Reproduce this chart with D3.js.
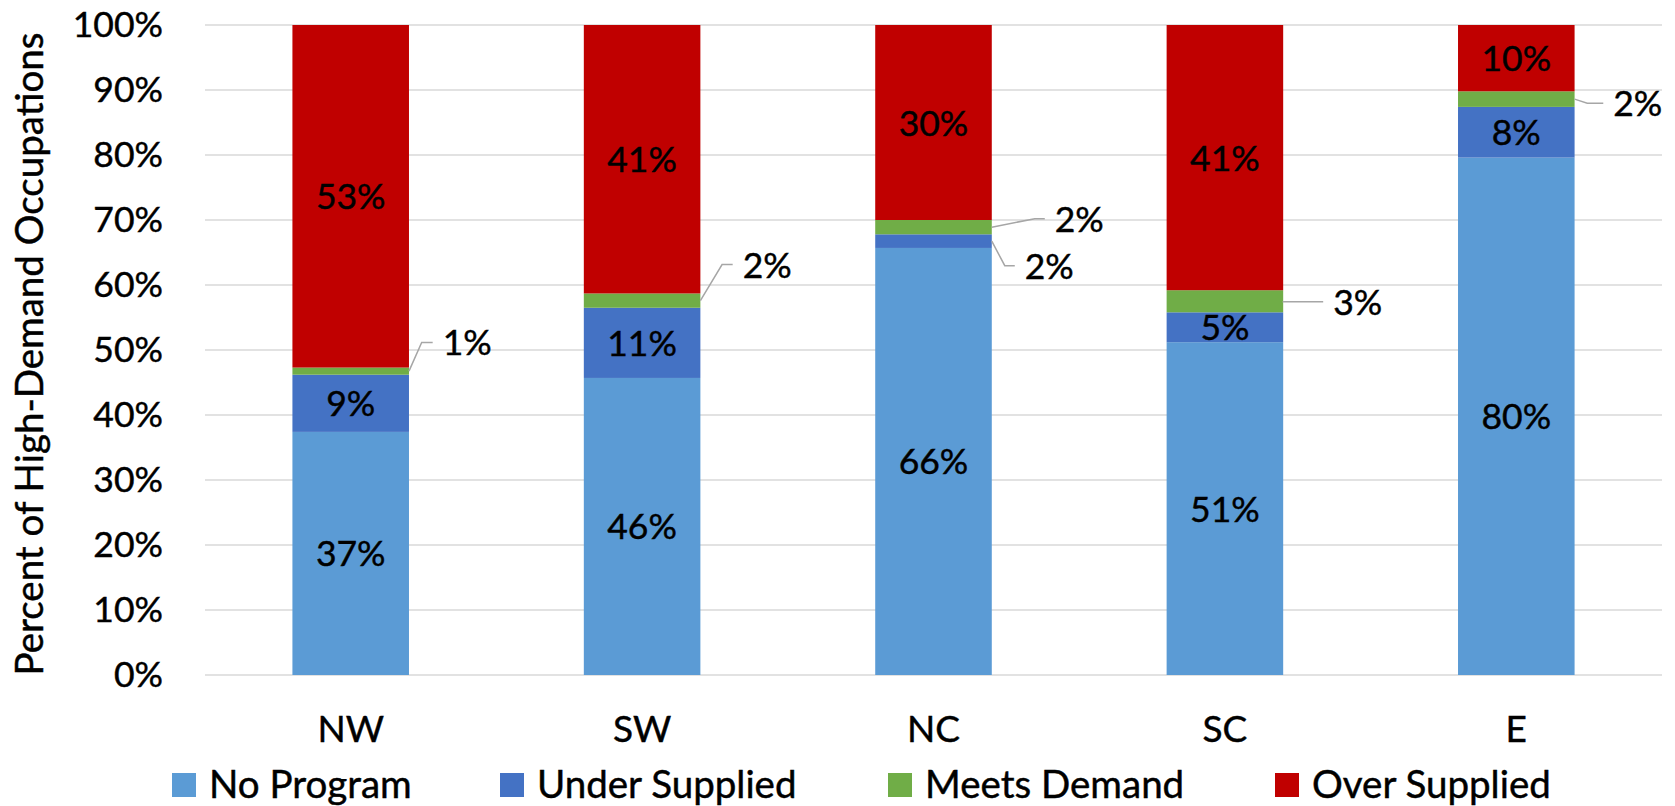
<!DOCTYPE html>
<html>
<head>
<meta charset="utf-8">
<script src="https://cdn.jsdelivr.net/npm/d3@7"></script>
<style>
  html, body { margin: 0; padding: 0; background: #fff; }
  svg text { font-family: Lato, "Open Sans", sans-serif; fill: #000; stroke: #000; stroke-width: 0.45px; }
</style>
</head>
<body>
<svg id="chart" width="1675" height="806"></svg>
<script>
// Regions and the share of high-demand occupations in each supply category (%)
const regions = ["NW", "SW", "NC", "SC", "E"];
const seriesNames = ["No Program", "Under Supplied", "Meets Demand", "Over Supplied"];
const noProgram     = [37.4, 45.7, 65.7, 51.2, 79.6];
const underSupplied = [8.8, 10.8, 2.1, 4.6, 7.8];
const meetsDemand   = [1.1, 2.2, 2.2, 3.4, 2.4];
const overSupplied  = [52.7, 41.3, 30.0, 40.8, 10.2];
const yTicks = [0, 10, 20, 30, 40, 50, 60, 70, 80, 90, 100];

const seriesValues = [noProgram, underSupplied, meetsDemand, overSupplied];
const colors = ["#5B9BD5", "#4472C4", "#70AD47", "#C00000"];

// Small segments whose labels sit outside the bar on a leader line
// (elbow offset from the bar edge and horizontal run length, in px)
const callouts = [
  { region: "NW", series: 2, dx: 12.7, dy: -28.7, run: 11 },
  { region: "SW", series: 2, dx: 21.7, dy: -36,   run: 10.6 },
  { region: "NC", series: 2, dx: 43,   dy: -8.5,  run: 10 },
  { region: "NC", series: 1, dx: 13,   dy: 24.6,  run: 10 },
  { region: "SC", series: 2, dx: 0,    dy: 0.4,   run: 40 },
  { region: "E",  series: 2, dx: 12.7, dy: 4.2,   run: 16 }
];

const numSize = 35.5;
const textSize = 38.5;

const svg = d3.select("#chart");
const plot = { left: 205, right: 1662, top: 25, bottom: 675 };

const x = d3.scaleBand()
  .domain(regions)
  .range([plot.left, plot.right])
  .paddingInner(0.6)
  .paddingOuter(0.3);

const y = d3.scaleLinear().domain([0, 100]).range([plot.bottom, plot.top]);

const rows = regions.map((r, i) => {
  const row = { region: r };
  seriesNames.forEach((s, k) => row[s] = seriesValues[k][i]);
  return row;
});
const stacked = d3.stack().keys(seriesNames)(rows);

// Gridlines
svg.append("g")
  .selectAll("line")
  .data(yTicks)
  .join("line")
  .attr("x1", plot.left)
  .attr("x2", plot.right)
  .attr("y1", d => y(d))
  .attr("y2", d => y(d))
  .attr("stroke", "#d9d9d9")
  .attr("stroke-width", 1.5);

// Y axis labels
const yAxis = d3.axisLeft(y).tickValues(yTicks).tickFormat(d => d + "%").tickSize(0).tickPadding(0);
const yg = svg.append("g").attr("transform", `translate(163,0)`).call(yAxis);
yg.select(".domain").remove();
yg.selectAll("text").attr("font-size", numSize).attr("font-family", "Lato, sans-serif").attr("fill", "#000");

// Y axis title
svg.append("text")
  .attr("transform", `translate(43,${(plot.top + plot.bottom) / 2 + 4}) rotate(-90)`)
  .attr("text-anchor", "middle")
  .attr("font-size", textSize)
  .text("Percent of High-Demand Occupations");

// X axis labels
const xAxis = d3.axisBottom(x).tickSize(0).tickPadding(0);
const xg = svg.append("g").attr("transform", `translate(0,${plot.bottom})`).call(xAxis);
xg.select(".domain").remove();
xg.selectAll("text").attr("font-size", 37).attr("font-family", "Lato, sans-serif")
  .attr("fill", "#000").attr("dy", null).attr("y", 67);

// Stacked bars
const layers = svg.append("g")
  .selectAll("g")
  .data(stacked)
  .join("g")
  .attr("fill", (d, i) => colors[i]);

layers.selectAll("rect")
  .data(d => d.map(v => Object.assign(v, { key: d.key, index: d.index })))
  .join("rect")
  .attr("x", d => x(d.data.region))
  .attr("width", x.bandwidth())
  .attr("y", d => y(d[1]))
  .attr("height", d => y(d[0]) - y(d[1]));

const fmt = v => Math.round(v) + "%";
const isCallout = (region, k) => callouts.some(c => c.region === region && c.series === k);

// Labels inside the bars
const labels = svg.append("g");
stacked.forEach((layer, k) => {
  layer.forEach(seg => {
    if (isCallout(seg.data.region, k)) return;
    labels.append("text")
      .attr("x", x(seg.data.region) + x.bandwidth() / 2)
      .attr("y", (y(seg[0]) + y(seg[1])) / 2 + 13)
      .attr("text-anchor", "middle")
      .attr("font-size", numSize)
      .text(fmt(seg[1] - seg[0]));
  });
});

// Labels on leader lines
callouts.forEach(c => {
  const seg = stacked[c.series].find(s => s.data.region === c.region);
  const x0 = x(c.region) + x.bandwidth();
  const y0 = (y(seg[0]) + y(seg[1])) / 2;
  const xe = x0 + c.dx, ye = y0 + c.dy;
  svg.append("polyline")
    .attr("points", [[x0, y0], [xe, ye], [xe + c.run, ye]].map(p => p.join(",")).join(" "))
    .attr("fill", "none")
    .attr("stroke", "#a6a6a6")
    .attr("stroke-width", 1.5);
  svg.append("text")
    .attr("x", xe + c.run + 10)
    .attr("y", ye + 13)
    .attr("font-size", numSize)
    .text(fmt(seg[1] - seg[0]));
});

// Legend
const legendX = [172, 500, 888, 1275];
const legend = svg.append("g")
  .selectAll("g")
  .data(seriesNames)
  .join("g")
  .attr("transform", (d, i) => `translate(${legendX[i]},773)`);
legend.append("rect").attr("width", 24).attr("height", 24).attr("fill", (d, i) => colors[i]);
legend.append("text").attr("x", 37).attr("y", 25).attr("font-size", textSize).text(d => d);
</script>
</body>
</html>
